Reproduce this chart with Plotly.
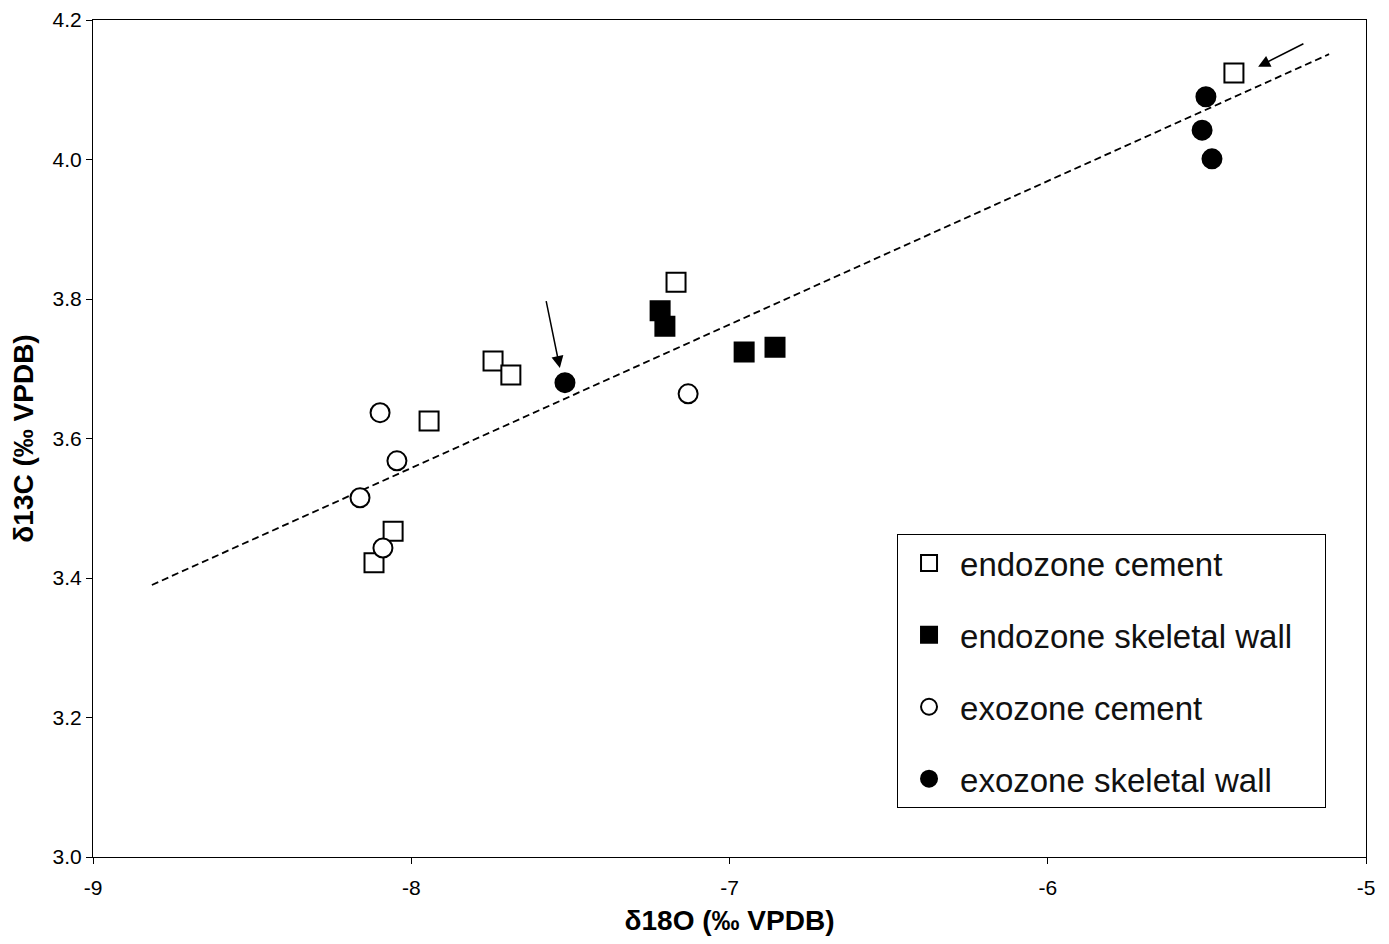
import plotly.graph_objects as go

# Data (δ18O, δ13C in ‰ VPDB)
endo_cement_x = [-5.415, -7.168, -7.743, -7.687, -7.944, -8.057, -8.117]
endo_cement_y = [4.124, 3.824, 3.711, 3.691, 3.625, 3.467, 3.422]

endo_wall_x = [-7.218, -7.203, -6.954, -6.857]
endo_wall_y = [3.783, 3.761, 3.724, 3.731]

exo_cement_x = [-8.098, -8.045, -8.161, -8.089, -7.130]
exo_cement_y = [3.637, 3.568, 3.515, 3.443, 3.664]

exo_wall_x = [-7.517, -5.503, -5.515, -5.484]
exo_wall_y = [3.680, 4.090, 4.042, 4.001]

trend_x = [-8.815, -5.116]
trend_y = [3.390, 4.151]

# arrows: (head_x, head_y, tail_x, tail_y)
arrows = [(-7.533, 3.701, -7.577, 3.799), (-5.339, 4.133, -5.192, 4.167)]

x_ticks = [-9, -8, -7, -6, -5]
y_ticks = [3.0, 3.2, 3.4, 3.6, 3.8, 4.0, 4.2]

FONT = "Arial, Liberation Sans, sans-serif"
PAD = "\u00a0\u00a0\u00a0"

fig = go.Figure()

fig.add_trace(go.Scatter(x=trend_x, y=trend_y, mode="lines",
                         line=dict(color="black", width=1.8, dash="7px,4px"),
                         showlegend=False, hoverinfo="skip"))

series = [
    ("endozone cement", endo_cement_x, endo_cement_y, "square", "white"),
    ("endozone skeletal wall", endo_wall_x, endo_wall_y, "square", "black"),
    ("exozone cement", exo_cement_x, exo_cement_y, "circle", "white"),
    ("exozone skeletal wall", exo_wall_x, exo_wall_y, "circle", "black"),
]
for i, (name, xs, ys, sym, fill) in enumerate(series):
    fig.add_trace(go.Scatter(
        x=xs, y=ys, mode="markers", name=name + PAD, legendgroup=f"g{i}",
        marker=dict(symbol=sym, size=19, color=fill,
                    line=dict(color="black", width=2)),
    ))

for hx, hy, tx, ty in arrows:
    fig.add_annotation(x=hx, y=hy, ax=tx, ay=ty, xref="x", yref="y",
                       axref="x", ayref="y", showarrow=True, arrowhead=2,
                       arrowsize=1.6, arrowwidth=1.5, arrowcolor="black", text="")

fig.update_layout(
    width=1373, height=928,
    margin=dict(l=85, r=15, t=12, b=79),
    plot_bgcolor="white", paper_bgcolor="white",
    font=dict(family=FONT, color="black", size=20),
    legend=dict(x=0.6316, y=0.3859, xanchor="left", yanchor="top",
                bordercolor="black", borderwidth=1, bgcolor="white",
                font=dict(size=33, family=FONT, color="#111"),
                tracegroupgap=26, itemsizing="trace", itemwidth=52),
    xaxis=dict(range=[-9, -5], tickvals=x_ticks, ticktext=[str(v) for v in x_ticks],
               showline=True, linecolor="black", linewidth=1.2, mirror=True,
               ticks="outside", ticklen=6, tickcolor="black", showgrid=False,
               zeroline=False, automargin=False,
               tickfont=dict(size=21, family=FONT), ticklabelstandoff=6,
               title=dict(text="<b>δ18O (‰ VPDB)</b>", font=dict(size=28), standoff=14)),
    yaxis=dict(range=[3.0, 4.2], tickvals=y_ticks, ticktext=[f"{v:.1f}" for v in y_ticks],
               showline=True, linecolor="black", linewidth=1.2, mirror=True,
               ticks="outside", ticklen=6, tickcolor="black", showgrid=False,
               zeroline=False, automargin=False,
               tickfont=dict(size=21, family=FONT),
               title=dict(text="<b>δ13C (‰ VPDB)</b>", font=dict(size=28), standoff=14)),
)

fig.write_html("out.html")
